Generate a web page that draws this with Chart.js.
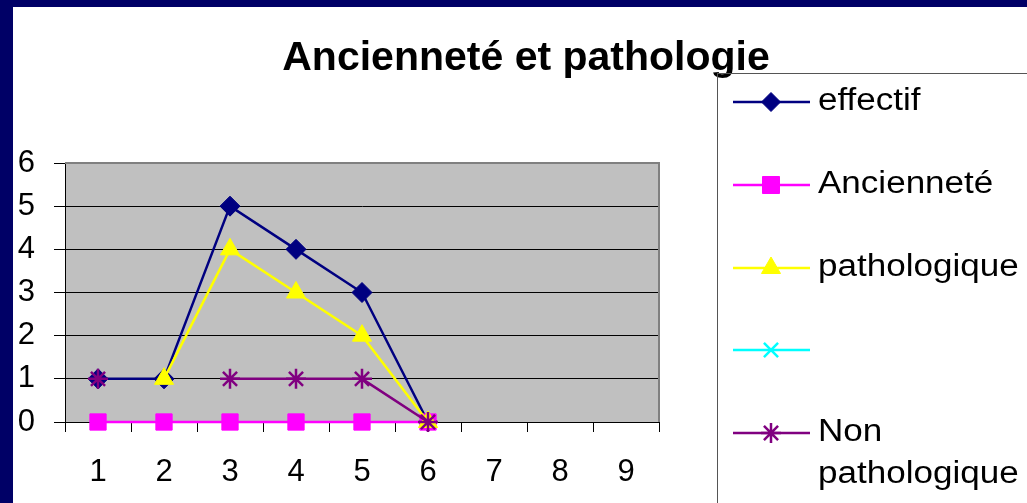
<!DOCTYPE html>
<html>
<head>
<meta charset="utf-8">
<script src="https://cdn.jsdelivr.net/npm/chart.js@4/dist/chart.umd.min.js"></script>
<style>
  html, body { margin: 0; padding: 0; background: #000066; }
  canvas { display: block; }
</style>
</head>
<body>
<canvas id="c" width="1027" height="503"></canvas>
<script>
const categories = ['1', '2', '3', '4', '5', '6', '7', '8', '9'];
const effectif = [1, 1, 5, 4, 3, 0, null, null, null];
const anciennete = [0, 0, 0, 0, 0, 0, null, null, null];
const pathologique = [null, 1, 4, 3, 2, 0, null, null, null];
const sansNom = [null, null, null, null, null, null, null, null, null];
const nonPathologique = [1, null, 1, 1, 1, 0, null, null, null];
const yTicks = [0, 1, 2, 3, 4, 5, 6];
const seriesNames = ['effectif', 'Ancienneté', 'pathologique', '', 'Non pathologique'];
const legendLines = [['effectif'], ['Ancienneté'], ['pathologique'], [''], ['Non', 'pathologique']];
const titleText = 'Ancienneté et pathologie';

const FONT = "'Liberation Sans', Arial, sans-serif";
const styles = [
  { color: '#000080', pointStyle: 'rectRot', radius: 10, legendRadius: 9.5 },
  { color: '#FF00FF', pointStyle: 'rect', radius: 11.5, legendRadius: 12 },
  { color: '#FFFF00', pointStyle: 'triangle', radius: 11, legendRadius: 11 },
  { color: '#00FFFF', pointStyle: 'crossRot', radius: 10, legendRadius: 10 },
  { color: '#800080', pointStyle: 'star', radius: 10, legendRadius: 10 }
];
const seriesData = [effectif, anciennete, pathologique, sansNom, nonPathologique];

const datasets = seriesData.map((d, i) => ({
  label: seriesNames[i],
  data: d,
  borderColor: styles[i].color,
  backgroundColor: styles[i].color,
  pointBackgroundColor: styles[i].color,
  pointBorderColor: styles[i].color,
  pointStyle: styles[i].pointStyle,
  pointRadius: styles[i].radius,
  pointHoverRadius: styles[i].radius,
  pointBorderWidth: (styles[i].pointStyle === 'star' || styles[i].pointStyle === 'crossRot') ? 2.5 : 1,
  borderWidth: 2.5,
  tension: 0,
  spanGaps: false,
  clip: false,
  order: seriesData.length - 1 - i
}));

const framePlugin = {
  id: 'frame',
  beforeDraw(chart) {
    const ctx = chart.ctx;
    ctx.save();
    ctx.fillStyle = '#000066';
    ctx.fillRect(0, 0, chart.width, chart.height);
    ctx.fillStyle = '#FFFFFF';
    ctx.fillRect(13, 7, chart.width - 13, chart.height - 7);
    const a = chart.chartArea;
    ctx.fillStyle = '#C0C0C0';
    ctx.fillRect(a.left, a.top, a.right - a.left, a.bottom - a.top);
    ctx.restore();
  },
  beforeDatasetsDraw(chart) {
    const ctx = chart.ctx;
    const a = chart.chartArea;
    ctx.save();
    ctx.strokeStyle = '#808080';
    ctx.lineWidth = 2;
    ctx.beginPath();
    ctx.moveTo(a.left, a.top);
    ctx.lineTo(a.right, a.top);
    ctx.lineTo(a.right, a.bottom);
    ctx.stroke();
    ctx.restore();
  },
  afterDraw(chart) {
    const ctx = chart.ctx;
    ctx.save();
    // Title
    ctx.fillStyle = '#000000';
    ctx.font = 'bold 41px ' + FONT;
    ctx.textAlign = 'center';
    ctx.textBaseline = 'alphabetic';
    ctx.fillText(titleText, 526, 70);
    // Legend box
    ctx.strokeStyle = '#555555';
    ctx.lineWidth = 1;
    ctx.strokeRect(717.5, 73.5, 320, 460);
    // Legend items
    const ys = [102, 185, 268, 350, 433];
    styles.forEach((s, i) => {
      const y = ys[i];
      ctx.strokeStyle = s.color;
      ctx.lineWidth = 2.5;
      ctx.beginPath();
      ctx.moveTo(733, y);
      ctx.lineTo(810, y);
      ctx.stroke();
      ctx.fillStyle = s.color;
      ctx.strokeStyle = s.color;
      ctx.lineWidth = (s.pointStyle === 'star' || s.pointStyle === 'crossRot') ? 2.5 : 1;
      Chart.helpers.drawPoint(ctx, { pointStyle: s.pointStyle, radius: s.legendRadius, rotation: 0, borderWidth: ctx.lineWidth }, 771, y);
      ctx.fillStyle = '#000000';
      ctx.font = '31px ' + FONT;
      ctx.textAlign = 'left';
      ctx.textBaseline = 'alphabetic';
      legendLines[i].forEach((t, k) => {
        ctx.save();
        ctx.translate(818, y + 8 + k * 42);
        ctx.scale(1.13, 1);
        ctx.fillText(t, 0, 0);
        ctx.restore();
      });
    });
    ctx.restore();
  }
};

new Chart(document.getElementById('c'), {
  type: 'line',
  data: { labels: categories, datasets },
  plugins: [framePlugin],
  options: {
    responsive: false,
    animation: false,
    devicePixelRatio: 1,
    layout: { padding: { left: 13, top: 163, right: 368, bottom: 0 } },
    plugins: {
      legend: { display: false },
      title: { display: false },
      tooltip: { enabled: false }
    },
    scales: {
      x: {
        type: 'category',
        offset: true,
        afterFit(scale) { scale.height = 81; },
        grid: {
          offset: true,
          drawOnChartArea: false,
          drawTicks: true,
          tickLength: 10,
          color: '#000000',
          lineWidth: 1
        },
        border: { display: true, color: '#000000', width: 1 },
        ticks: {
          color: '#000000',
          font: { family: FONT, size: 31 },
          padding: 22,
          maxRotation: 0,
          autoSkip: false
        }
      },
      y: {
        min: 0,
        max: 6,
        afterFit(scale) { scale.width = 52; },
        afterBuildTicks(scale) { scale.ticks = yTicks.map(v => ({ value: v })); },
        grid: {
          color: '#000000',
          lineWidth: 1,
          drawTicks: true,
          tickLength: 11
        },
        border: { display: true, color: '#000000', width: 1 },
        ticks: {
          color: '#000000',
          font: { family: FONT, size: 31 },
          padding: 19
        }
      }
    }
  }
});
</script>
</body>
</html>
